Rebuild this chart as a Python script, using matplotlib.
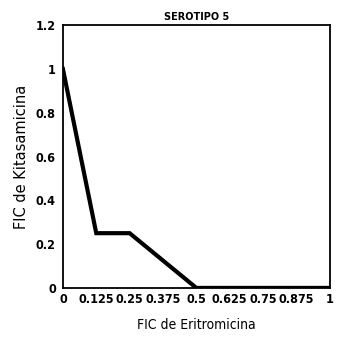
import matplotlib
matplotlib.use("Agg")
import matplotlib.pyplot as plt

# isobolograma FIC
fic_eritro = [0, 0.125, 0.25, 0.5, 1]
fic_kitasa = [1, 0.25, 0.25, 0, 0]
xticks = [0, 0.125, 0.25, 0.375, 0.5, 0.625, 0.75, 0.875, 1]
xtick_labels = ["0", "0.125", "0.25", "0.375", "0.5", "0.625", "0.75", "0.875", "1"]
yticks = [0, 0.2, 0.4, 0.6, 0.8, 1, 1.2]
ytick_labels = ["0", "0.2", "0.4", "0.6", "0.8", "1", "1.2"]

fig = plt.figure(figsize=(3.4, 3.49), dpi=100)
ax = fig.add_axes([0.185, 0.175, 0.785, 0.753])

ax.plot(fic_eritro, fic_kitasa, color="black", linewidth=3, solid_joinstyle="miter")

tick_font = dict(fontsize=9, fontweight="heavy", fontstretch="condensed", family="DejaVu Sans")
ax.set_xlim(0, 1)
ax.set_ylim(0, 1.2)
ax.set_xticks(xticks)
ax.set_xticklabels(xtick_labels, **tick_font)
ax.set_yticks(yticks)
ax.set_yticklabels(ytick_labels, **tick_font)
ax.tick_params(axis="x", length=0, pad=4)
ax.tick_params(axis="y", length=0, pad=5)

for s in ax.spines.values():
    s.set_linewidth(1.3)
    s.set_linestyle((0, (7, 1)))

ax.set_title("SEROTIPO 5", fontsize=7, fontweight="bold", pad=4)
ax.set_xlabel("FIC de Eritromicina", fontsize=10, labelpad=8, fontstretch="condensed")
ax.set_ylabel("FIC de Kitasamicina", fontsize=10.5, labelpad=5)

fig.savefig("out.png", dpi=100)
